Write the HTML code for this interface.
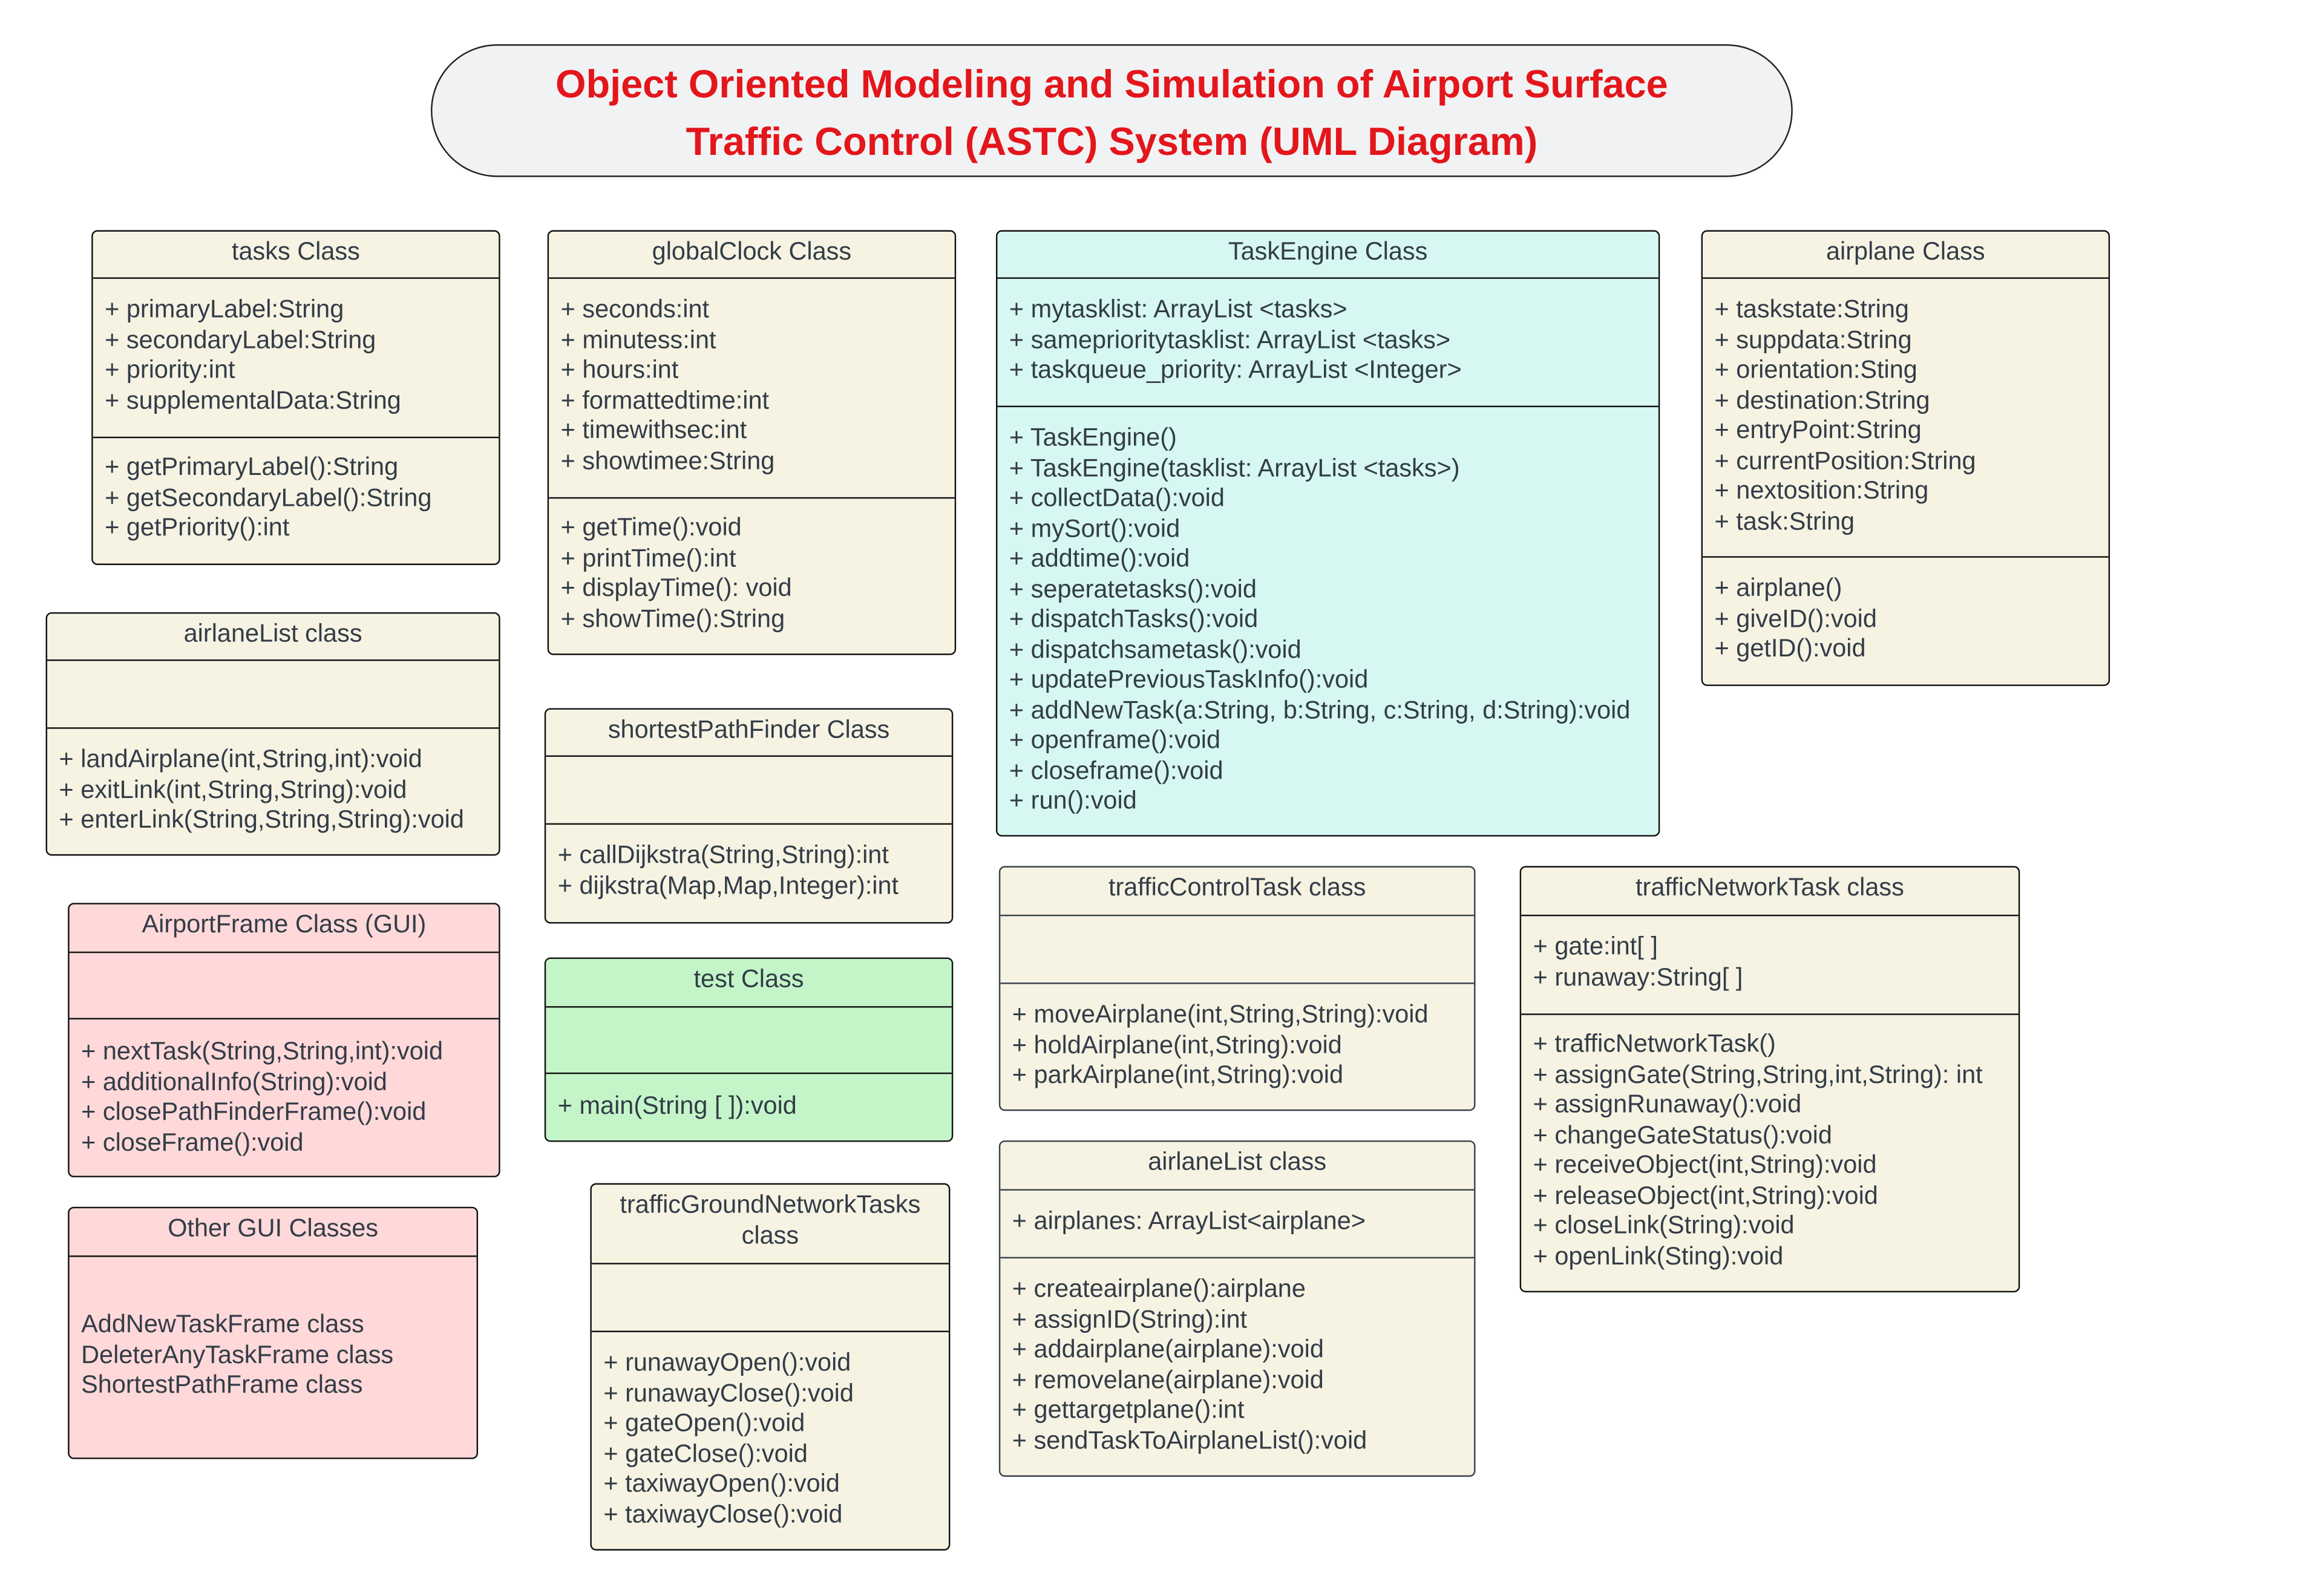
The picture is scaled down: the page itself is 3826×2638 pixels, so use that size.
<!DOCTYPE html>
<html><head><meta charset="utf-8"><style>
html,body{margin:0;padding:0;background:#fff;}
body{width:3826px;height:2638px;overflow:hidden;position:relative;}
#w{position:absolute;left:0;top:0;width:1569px;height:1082px;transform:scale(2.4385);transform-origin:0 0;font-family:"Liberation Sans",Arial,sans-serif;color:#333c47;}
.b{position:absolute;box-sizing:border-box;border:1.2px solid #111;border-radius:4px;background:#f6f3e3;overflow:hidden;}
.g{border-color:#3a414a;}
.h{position:absolute;left:0;right:0;top:0;text-align:center;font-size:17px;line-height:20.5px;}
.l{position:absolute;left:0;right:0;border-top:1.2px solid #111;}
.g .l{border-color:#3a414a;}
.t{position:absolute;left:8px;font-size:17px;line-height:20.5px;white-space:nowrap;}
#title{position:absolute;left:292px;top:30px;width:923px;height:90px;box-sizing:border-box;border:1px solid #222;border-radius:45px;background:#f1f2f4;text-align:center;color:#e3161b;font-weight:bold;font-size:26.6px;line-height:38.5px;padding-top:7px;}
</style></head><body><div id="w">
<div id="title">Object Oriented Modeling and Simulation of Airport Surface<br>Traffic Control (ASTC) System (UML Diagram)</div>

<div class="b" style="left:62px;top:156px;width:277px;height:227px">
<div class="h" style="top:4px">tasks Class</div>
<div class="l" style="top:31px"></div>
<div class="t" style="top:43px">+ primaryLabel:String<br>+ secondaryLabel:String<br>+ priority:int<br>+ supplementalData:String</div>
<div class="l" style="top:139px"></div>
<div class="t" style="top:150px">+ getPrimaryLabel():String<br>+ getSecondaryLabel():String<br>+ getPriority():int</div>
</div>

<div class="b" style="left:371px;top:156px;width:277px;height:288px">
<div class="h" style="top:4px">globalClock Class</div>
<div class="l" style="top:31px"></div>
<div class="t" style="top:43px">+ seconds:int<br>+ minutess:int<br>+ hours:int<br>+ formattedtime:int<br>+ timewithsec:int<br>+ showtimee:String</div>
<div class="l" style="top:180px"></div>
<div class="t" style="top:191px">+ getTime():void<br>+ printTime():int<br>+ displayTime(): void<br>+ showTime():String</div>
</div>

<div class="b" style="left:675px;top:156px;width:450px;height:411px;background:#d6f7f2">
<div class="h" style="top:4px">TaskEngine Class</div>
<div class="l" style="top:31px"></div>
<div class="t" style="top:43px">+ mytasklist: ArrayList &lt;tasks&gt;<br>+ sameprioritytasklist: ArrayList &lt;tasks&gt;<br>+ taskqueue_priority: ArrayList &lt;Integer&gt;</div>
<div class="l" style="top:118px"></div>
<div class="t" style="top:130px">+ TaskEngine()<br>+ TaskEngine(tasklist: ArrayList &lt;tasks&gt;)<br>+ collectData():void<br>+ mySort():void<br>+ addtime():void<br>+ seperatetasks():void<br>+ dispatchTasks():void<br>+ dispatchsametask():void<br>+ updatePreviousTaskInfo():void<br>+ addNewTask(a:String, b:String, c:String, d:String):void<br>+ openframe():void<br>+ closeframe():void<br>+ run():void</div>
</div>

<div class="b" style="left:1153px;top:156px;width:277px;height:309px">
<div class="h" style="top:4px">airplane Class</div>
<div class="l" style="top:31px"></div>
<div class="t" style="top:43px">+ taskstate:String<br>+ suppdata:String<br>+ orientation:Sting<br>+ destination:String<br>+ entryPoint:String<br>+ currentPosition:String<br>+ nextosition:String<br>+ task:String</div>
<div class="l" style="top:220px"></div>
<div class="t" style="top:232px">+ airplane()<br>+ giveID():void<br>+ getID():void</div>
</div>

<div class="b" style="left:31px;top:415px;width:308px;height:165px">
<div class="h" style="top:4px">airlaneList class</div>
<div class="l" style="top:31px"></div>
<div class="l" style="top:77px"></div>
<div class="t" style="top:89px">+ landAirplane(int,String,int):void<br>+ exitLink(int,String,String):void<br>+ enterLink(String,String,String):void</div>
</div>

<div class="b" style="left:369px;top:480px;width:277px;height:146px">
<div class="h" style="top:4px">shortestPathFinder Class</div>
<div class="l" style="top:31px"></div>
<div class="l" style="top:77px"></div>
<div class="t" style="top:89px">+ callDijkstra(String,String):int<br>+ dijkstra(Map,Map,Integer):int</div>
</div>

<div class="b" style="left:46px;top:612px;width:293px;height:186px;background:#ffd9d9">
<div class="h" style="top:4px">AirportFrame Class (GUI)</div>
<div class="l" style="top:32px"></div>
<div class="l" style="top:77px"></div>
<div class="t" style="top:90px">+ nextTask(String,String,int):void<br>+ additionalInfo(String):void<br>+ closePathFinderFrame():void<br>+ closeFrame():void</div>
</div>

<div class="b" style="left:46px;top:818px;width:278px;height:171px;background:#ffd9d9">
<div class="h" style="top:4px">Other GUI Classes</div>
<div class="l" style="top:32px"></div>
<div class="t" style="top:69px">AddNewTaskFrame class<br>DeleterAnyTaskFrame class<br>ShortestPathFrame class</div>
</div>

<div class="b" style="left:369px;top:649px;width:277px;height:125px;background:#c4f5c9">
<div class="h" style="top:4px">test Class</div>
<div class="l" style="top:32px"></div>
<div class="l" style="top:77px"></div>
<div class="t" style="top:90px">+ main(String [ ]):void</div>
</div>

<div class="b" style="left:400px;top:802px;width:244px;height:249px">
<div class="h" style="top:4px">trafficGroundNetworkTasks<br>class</div>
<div class="l" style="top:53px"></div>
<div class="l" style="top:99px"></div>
<div class="t" style="top:111px">+ runawayOpen():void<br>+ runawayClose():void<br>+ gateOpen():void<br>+ gateClose():void<br>+ taxiwayOpen():void<br>+ taxiwayClose():void</div>
</div>

<div class="b g" style="left:677px;top:587px;width:323px;height:166px">
<div class="h" style="top:4px">trafficControlTask class</div>
<div class="l" style="top:32px"></div>
<div class="l" style="top:78px"></div>
<div class="t" style="top:90px">+ moveAirplane(int,String,String):void<br>+ holdAirplane(int,String):void<br>+ parkAirplane(int,String):void</div>
</div>

<div class="b g" style="left:677px;top:773px;width:323px;height:228px">
<div class="h" style="top:4px">airlaneList class</div>
<div class="l" style="top:32px"></div>
<div class="t" style="top:44px">+ airplanes: ArrayList&lt;airplane&gt;</div>
<div class="l" style="top:78px"></div>
<div class="t" style="top:90px">+ createairplane():airplane<br>+ assignID(String):int<br>+ addairplane(airplane):void<br>+ removelane(airplane):void<br>+ gettargetplane():int<br>+ sendTaskToAirplaneList():void</div>
</div>

<div class="b" style="left:1030px;top:587px;width:339px;height:289px">
<div class="h" style="top:4px">trafficNetworkTask class</div>
<div class="l" style="top:32px"></div>
<div class="t" style="top:44px">+ gate:int[ ]<br>+ runaway:String[ ]</div>
<div class="l" style="top:99px"></div>
<div class="t" style="top:110px">+ trafficNetworkTask()<br>+ assignGate(String,String,int,String): int<br>+ assignRunaway():void<br>+ changeGateStatus():void<br>+ receiveObject(int,String):void<br>+ releaseObject(int,String):void<br>+ closeLink(String):void<br>+ openLink(Sting):void</div>
</div>

</div></body></html>
